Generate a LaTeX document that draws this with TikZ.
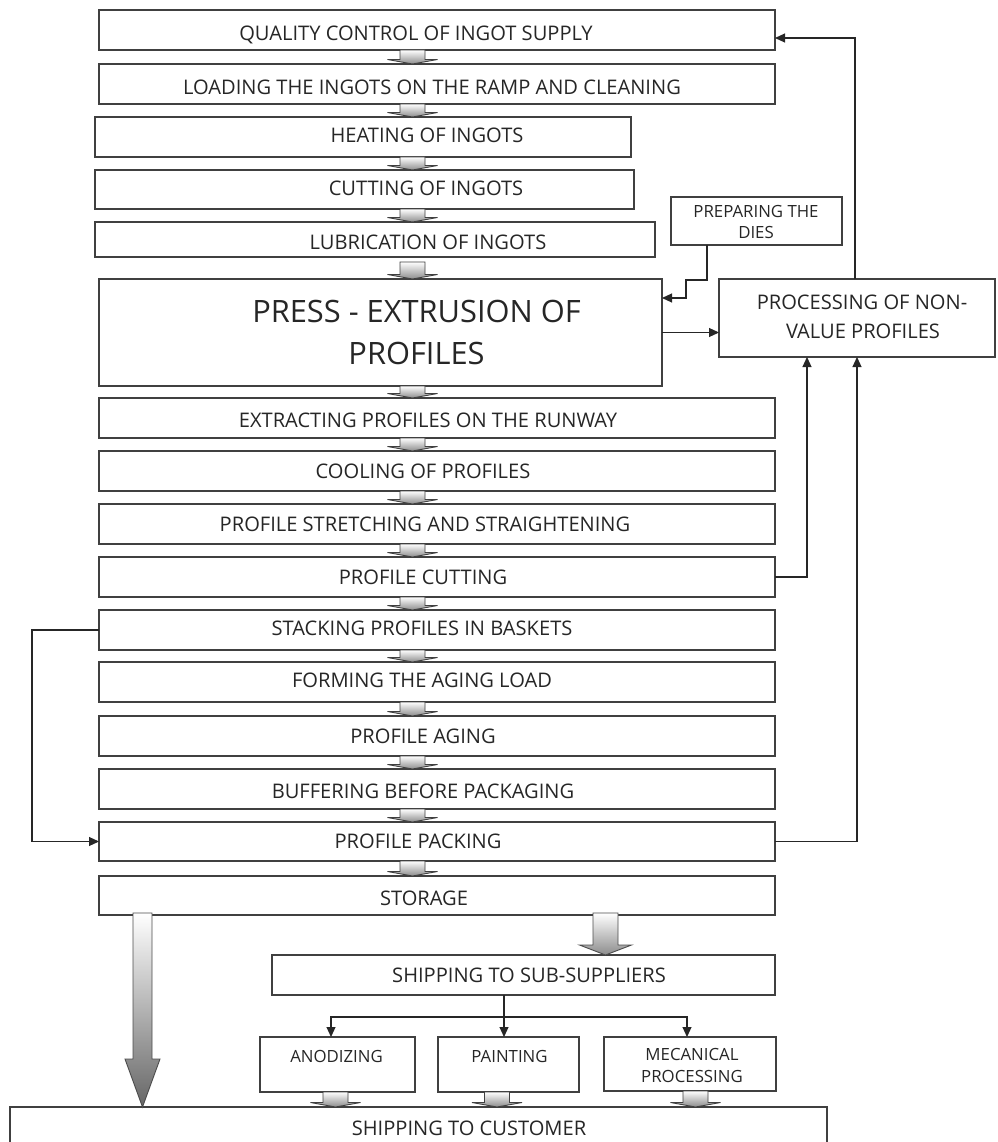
\documentclass[tikz,border=0pt]{standalone}
\usepackage{fontspec}
\setmainfont{Open Sans}
\usetikzlibrary{arrows.meta,calc,fit}
\newcommand\smallarr[4]{%
  \path[sarrow] let \p1=(#1.south), \p2=(#2.north) in
   (#3pt-12.5pt,\y1-#4pt) -- (#3pt+12.5pt,\y1-#4pt) -- (#3pt+12.5pt,\y2+4.5pt)
   -- (#3pt+25pt,\y2+4.5pt) -- (#3pt,\y2) -- (#3pt-25pt,\y2+4.5pt)
   -- (#3pt-12.5pt,\y2+4.5pt) -- cycle;}
\newcommand\bigarr[7]{%
  \path[barrow,#7] let \p1=(#1.south), \p2=(#2.north) in
   (#3pt-#4pt,\y1+2pt) -- (#3pt+#4pt,\y1+2pt) -- (#3pt+#4pt,\y2+#6pt)
   -- (#3pt+#5pt,\y2+#6pt) -- (#3pt,\y2) -- (#3pt-#5pt,\y2+#6pt)
   -- (#3pt-#4pt,\y2+#6pt) -- cycle;}
\begin{document}
\begin{tikzpicture}[x=1pt,y=-1pt,
  box/.style={draw=black!75, line width=1.1pt, inner sep=0pt, outer sep=0pt, fill=white},
  txt/.style={inner sep=0pt, anchor=base, text=black!85, font=\fontsize{20.1}{24}\selectfont},
  stxt/.style={txt, font=\fontsize{16.8}{20}\selectfont},
  btxt/.style={txt, font=\fontsize{30.8}{36}\selectfont},
  conn/.style={draw=black!85, line width=1.1pt},
  arr/.style={conn, -{Triangle[length=10pt,width=9pt]}},
  sarrow/.style={draw=black!75, line width=0.9pt, top color=white, bottom color=black!45},
  barrow/.style={draw=black!70, line width=0.9pt}]
\useasboundingbox (0,0) rectangle (997,1142);
\clip (0,0) rectangle (997,1142);
% boxes
\node[box, fit={(99,10)(775,50)}] (q) {};
\node[box, fit={(99,64)(775,104)}] (ld) {};
\node[box, fit={(95,117)(631,157)}] (ht) {};
\node[box, fit={(95,170)(634,209)}] (ct) {};
\node[box, fit={(95,222)(655,257)}] (lb) {};
\node[box, fit={(99,279)(662,386)}] (pp) {};
\node[box, fit={(99,398)(775,438)}] (ex) {};
\node[box, fit={(99,451)(775,491)}] (co) {};
\node[box, fit={(99,504)(775,544)}] (sr) {};
\node[box, fit={(99,557)(775,597)}] (pc) {};
\node[box, fit={(99,610)(775,650)}] (st) {};
\node[box, fit={(99,662)(775,702)}] (fa) {};
\node[box, fit={(99,716)(775,756)}] (ag) {};
\node[box, fit={(99,769)(775,809)}] (bf) {};
\node[box, fit={(99,822)(775,861)}] (pk) {};
\node[box, fit={(99,876)(775,915)}] (sg) {};
\node[box, fit={(671,197)(842,245)}] (pd) {};
\node[box, fit={(719,279)(995,357)}] (pr) {};
\node[box, fit={(272,955)(775,995)}] (sub) {};
\node[box, fit={(260,1037)(415,1092)}] (an) {};
\node[box, fit={(438,1037)(579,1092)}] (pa) {};
\node[box, fit={(604,1037)(776,1091)}] (me) {};
\node[box, fit={(10,1107)(827,1170)}] (cu) {};
% texts
\node[txt] (tq) at (416,41) {QUALITY CONTROL OF INGOT SUPPLY};
\node[txt] (tld) at (432,95) {LOADING THE INGOTS ON THE RAMP AND CLEANING};
\node[txt] (tht) at (427,143) {HEATING OF INGOTS};
\node[txt] (tct) at (426,196) {CUTTING OF INGOTS};
\node[txt] (tlb) at (428,249) {LUBRICATION OF INGOTS};
\node[btxt] (tpp1) at (416.5,322) {PRESS - EXTRUSION OF};
\node[btxt] (tpp2) at (416.5,364) {PROFILES};
\node[txt] (tex) at (428,427) {EXTRACTING PROFILES ON THE RUNWAY};
\node[txt] (tco) at (423,478) {COOLING OF PROFILES};
\node[txt] (tsr) at (425,531) {PROFILE STRETCHING AND STRAIGHTENING};
\node[txt] (tpc) at (423,584) {PROFILE CUTTING};
\node[txt] (tst) at (422,635) {STACKING PROFILES IN BASKETS};
\node[txt] (tfa) at (422,687) {FORMING THE AGING LOAD};
\node[txt] (tag) at (423,743) {PROFILE AGING};
\node[txt] (tbf) at (423,798) {BUFFERING BEFORE PACKAGING};
\node[txt] (tpk) at (418,848) {PROFILE PACKING};
\node[txt] (tsg) at (424,905) {STORAGE};
\node[stxt] (tpd1) at (756,217) {PREPARING THE};
\node[stxt] (tpd2) at (756,238) {DIES};
\node[txt] (tpr1) at (862,309) {PROCESSING OF NON-};
\node[txt] (tpr2) at (863,338) {VALUE PROFILES};
\node[txt] (tsub) at (529,982) {SHIPPING TO SUB-SUPPLIERS};
\node[stxt] (tan) at (336.5,1062) {ANODIZING};
\node[stxt] (tpa) at (509.5,1062) {PAINTING};
\node[stxt] (tme1) at (692,1060) {MECANICAL};
\node[stxt] (tme2) at (692,1082) {PROCESSING};
\node[txt] (tcu) at (469,1135) {SHIPPING TO CUSTOMER};
% small block arrows
\smallarr{q}{ld}{412.5}{0}
\smallarr{ld}{ht}{412.5}{0}
\smallarr{ht}{ct}{412.5}{0}
\smallarr{ct}{lb}{412.5}{0}
\smallarr{lb}{pp}{412.5}{5}
\smallarr{pp}{ex}{412.5}{0}
\smallarr{ex}{co}{412.5}{0}
\smallarr{co}{sr}{412.5}{0}
\smallarr{sr}{pc}{412.5}{0}
\smallarr{pc}{st}{412.5}{0}
\smallarr{st}{fa}{412.5}{0}
\smallarr{fa}{ag}{412.5}{0}
\smallarr{ag}{bf}{412.5}{0}
\smallarr{bf}{pk}{412.5}{0}
\smallarr{pk}{sg}{412.5}{0}
\smallarr{an}{cu}{335.5}{0}
\smallarr{pa}{cu}{497}{0}
\smallarr{me}{cu}{695.5}{0}
% big block arrows
\bigarr{sg}{sub}{605.5}{12.5}{26}{10}{top color=white, bottom color=black!45}
\bigarr{sg}{cu}{142.5}{9.5}{17.5}{48}{top color=white, bottom color=black!60}
% connectors
\draw[arr] (707,0 |- pd.south) |- (686,280) |- (pp.east |- 0,298);
\draw[arr] (pp.east) -- (pp.east -| pr.west);
\draw[arr] (855,0 |- pr.north) |- ($(q.east)+(0,8)$);
\draw[arr] (pc.east) -| (807,0 |- pr.south);
\draw[arr] (pk.east) -| (pr.south);
\draw[arr] (st.west) -- ++(-67,0) |- (pk.west);
\coordinate (br) at (504,1017);
\draw[arr] (504,0 |- sub.south) -- (504,0 |- pa.north);
\draw[arr] (br) -| (331,0 |- an.north);
\draw[arr] (br) -| (687,0 |- me.north);
\end{tikzpicture}
\end{document}
